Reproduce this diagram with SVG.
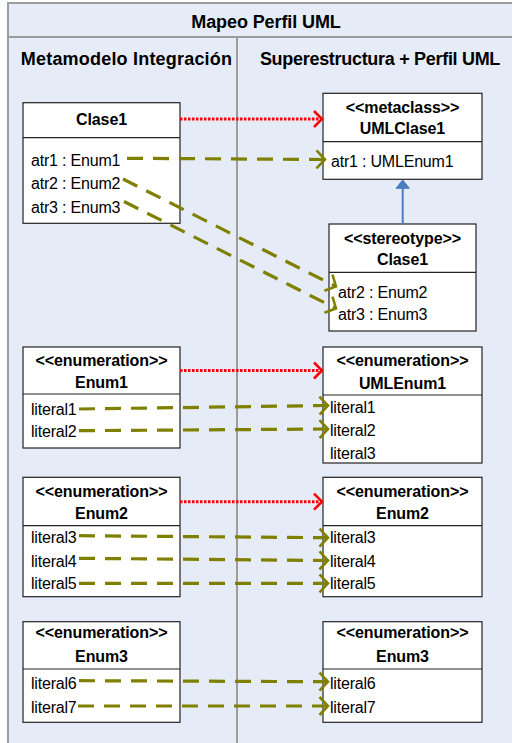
<svg xmlns="http://www.w3.org/2000/svg" width="512" height="743" viewBox="0 0 512 743">
  <style>
    .frame { fill: #E6ECF7; stroke: #9C9C9C; stroke-width: 2; }
    .sep { stroke: #9C9C9C; stroke-width: 2; fill: none; }
    .box { fill: #FFFFFF; stroke: #222222; stroke-width: 1.2; }
    .div { stroke: #222222; stroke-width: 1.2; }
    text { font-family: "Liberation Sans", Arial, sans-serif; font-size: 16px; fill: #000000; letter-spacing: -0.2px; }
    .c { text-anchor: middle; }
    .b { font-weight: bold; letter-spacing: -0.1px; }
    .h { font-size: 18px; font-weight: bold; letter-spacing: -0.3px; text-anchor: middle; }
    .map { stroke: #808000; stroke-width: 3.2; stroke-dasharray: 16 10; fill: none; marker-end: url(#openOlive); }
    .trace { stroke: #FF0000; stroke-width: 3; stroke-dasharray: 2.5 1.5; fill: none; marker-end: url(#openRed); }
    .gen { stroke: #4A7CC0; stroke-width: 2; fill: none; }
  </style>
  <defs>
    <marker id="openRed" viewBox="-10 -10 12 20" markerUnits="userSpaceOnUse" markerWidth="12" markerHeight="20" refX="0" refY="0" orient="auto">
      <path d="M-8,-8 L0,0 L-8,8" fill="none" stroke="#FF0000" stroke-width="2.5"/>
    </marker>
    <marker id="openOlive" viewBox="-11 -11 13 22" markerUnits="userSpaceOnUse" markerWidth="13" markerHeight="22" refX="0" refY="0" orient="auto">
      <path d="M-8.5,-9 L0,0 L-8.5,9" fill="none" stroke="#808000" stroke-width="2.6"/>
    </marker>
  </defs>

  <!-- swimlane frame -->
  <g id="frame">
    <rect class="frame" x="8" y="3" width="530" height="760"/>
    <line class="sep" x1="8" y1="37" x2="538" y2="37"/>
    <line class="sep" x1="237" y1="37" x2="237" y2="763"/>
    <text class="h" x="266" y="27.5" style="letter-spacing:-0.1px">Mapeo Perfil UML</text>
    <text class="h" x="126.5" y="65" style="letter-spacing:0.2px">Metamodelo Integración</text>
    <text class="h" x="380" y="65">Superestructura + Perfil UML</text>
  </g>

  <!-- left lane: integration metamodel -->
  <g id="clase1">
    <rect class="box" x="23" y="102.7" width="157" height="120.6"/>
    <line class="div" x1="23" y1="137.7" x2="180" y2="137.7"/>
    <text class="b c" x="101.5" y="125">Clase1</text>
    <text x="31" y="165.5">atr1 : Enum1</text>
    <text x="31" y="189">atr2 : Enum2</text>
    <text x="31" y="212.5">atr3 : Enum3</text>
  </g>

  <g id="enum1">
    <rect class="box" x="23" y="347" width="157" height="101"/>
    <line class="div" x1="23" y1="394" x2="180" y2="394"/>
    <text class="b c" x="101.5" y="366">&lt;&lt;enumeration&gt;&gt;</text>
    <text class="b c" x="101.5" y="388">Enum1</text>
    <text x="31" y="415">literal1</text>
    <text x="31" y="437">literal2</text>
  </g>

  <g id="enum2">
    <rect class="box" x="23" y="477.3" width="157" height="119.4"/>
    <line class="div" x1="23" y1="525.7" x2="180" y2="525.7"/>
    <text class="b c" x="101.5" y="496.7">&lt;&lt;enumeration&gt;&gt;</text>
    <text class="b c" x="101.5" y="519">Enum2</text>
    <text x="31" y="543.3">literal3</text>
    <text x="31" y="566.5">literal4</text>
    <text x="31" y="589.3">literal5</text>
  </g>

  <g id="enum3">
    <rect class="box" x="23" y="621.7" width="157" height="100.6"/>
    <line class="div" x1="23" y1="669" x2="180" y2="669"/>
    <text class="b c" x="101.5" y="638.3">&lt;&lt;enumeration&gt;&gt;</text>
    <text class="b c" x="101.5" y="661.7">Enum3</text>
    <text x="31" y="689.3">literal6</text>
    <text x="31" y="713.3">literal7</text>
  </g>

  <!-- right lane: UML superstructure + profile -->
  <g id="umlclase1">
    <rect class="box" x="323" y="93.3" width="159" height="86"/>
    <line class="div" x1="323" y1="141.7" x2="482" y2="141.7"/>
    <text class="b c" x="402.5" y="113.3">&lt;&lt;metaclass&gt;&gt;</text>
    <text class="b c" x="402.5" y="134">UMLClase1</text>
    <text x="331" y="167.3">atr1 : UMLEnum1</text>
  </g>

  <g id="stereotype-clase1">
    <rect class="box" x="329" y="224" width="147" height="107"/>
    <line class="div" x1="329" y1="272.3" x2="476" y2="272.3"/>
    <text class="b c" x="402.5" y="244">&lt;&lt;stereotype&gt;&gt;</text>
    <text class="b c" x="402.5" y="265.3">Clase1</text>
    <text x="338" y="297.5">atr2 : Enum2</text>
    <text x="338" y="319.5">atr3 : Enum3</text>
  </g>

  <g id="umlenum1">
    <rect class="box" x="323" y="347" width="159" height="116"/>
    <line class="div" x1="323" y1="395" x2="482" y2="395"/>
    <text class="b c" x="402.5" y="366">&lt;&lt;enumeration&gt;&gt;</text>
    <text class="b c" x="402.5" y="389">UMLEnum1</text>
    <text x="330" y="413">literal1</text>
    <text x="330" y="436">literal2</text>
    <text x="330" y="459">literal3</text>
  </g>

  <g id="uml-enum2">
    <rect class="box" x="323" y="477.3" width="159" height="119.4"/>
    <line class="div" x1="323" y1="525.7" x2="482" y2="525.7"/>
    <text class="b c" x="402.5" y="496.7">&lt;&lt;enumeration&gt;&gt;</text>
    <text class="b c" x="402.5" y="519">Enum2</text>
    <text x="330" y="543.3">literal3</text>
    <text x="330" y="566.5">literal4</text>
    <text x="330" y="589.3">literal5</text>
  </g>

  <g id="uml-enum3">
    <rect class="box" x="323" y="621.7" width="159" height="100.6"/>
    <line class="div" x1="323" y1="669" x2="482" y2="669"/>
    <text class="b c" x="402.5" y="638.3">&lt;&lt;enumeration&gt;&gt;</text>
    <text class="b c" x="402.5" y="661.7">Enum3</text>
    <text x="330" y="689.3">literal6</text>
    <text x="330" y="713.3">literal7</text>
  </g>

  <!-- connectors -->
  <g id="connectors">
    <!-- class-level traces -->
    <line class="trace" x1="180" y1="119" x2="322" y2="119"/>
    <line class="trace" x1="180" y1="370.5" x2="322" y2="370.5"/>
    <line class="trace" x1="180" y1="501.7" x2="322" y2="501.7"/>

    <!-- attribute / literal mappings -->
    <line class="map" x1="127" y1="158.3" x2="325" y2="159.5"/>
    <line class="map" x1="123" y1="179" x2="336" y2="286.5"/>
    <line class="map" x1="124" y1="201.5" x2="336" y2="308.5"/>

    <line class="map" x1="79" y1="409" x2="328" y2="405.5"/>
    <line class="map" x1="79" y1="430.7" x2="328" y2="429"/>

    <line class="map" x1="79" y1="535.7" x2="328" y2="537.7"/>
    <line class="map" x1="79" y1="558.3" x2="328" y2="560.5"/>
    <line class="map" x1="79" y1="583.3" x2="328" y2="583.3"/>

    <line class="map" x1="79" y1="680.7" x2="328" y2="681.7"/>
    <line class="map" x1="78" y1="706" x2="328" y2="706"/>

    <!-- stereotype extends metaclass -->
    <line class="gen" x1="402.7" y1="224" x2="402.7" y2="187"/>
    <polygon points="402.7,180 396,188.3 409.4,188.3" fill="#4A7CC0" stroke="#4A7CC0" stroke-width="1"/>
  </g>
</svg>
